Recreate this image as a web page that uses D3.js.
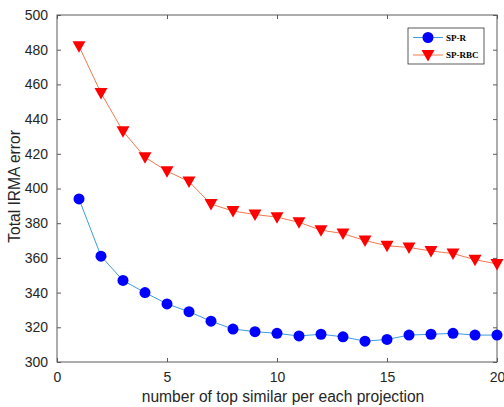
<!DOCTYPE html>
<html><head><meta charset="utf-8">
<script src="https://cdn.jsdelivr.net/npm/d3@7"></script>
<style>body{margin:0;background:#fff}svg{display:block}</style>
</head><body>
<svg id="c" width="504" height="407"></svg>
<script>
const xValues = [1,2,3,4,5,6,7,8,9,10,11,12,13,14,15,16,17,18,19,20];
const spR = [394,361,347,340,333.5,329,323.5,319,317.5,316.5,315,316,314.5,312,313,315.5,316,316.5,315.5,315.5];
const spRBC = [482,455,433,418,410,404,391,387,385,383.5,380.5,376,374,370,367,366,364,362.5,359,356.5];
const xTicks = [0,5,10,15,20];
const yTicks = [300,320,340,360,380,400,420,440,460,480,500];
const seriesNames = ["SP-R","SP-RBC"];

const svg = d3.select("#c");
const L=57, R=497, T=15, B=362;
const x = d3.scaleLinear().domain([0,20]).range([L,R]);
const y = d3.scaleLinear().domain([300,500]).range([B,T]);
const axisColor = "#5a5a5a";
const font = "Arial, 'Liberation Sans', Helvetica, sans-serif";

svg.append("rect").attr("x",L).attr("y",T).attr("width",R-L).attr("height",B-T)
  .attr("fill","none").attr("stroke",axisColor).attr("stroke-width",1);

const gx = svg.append("g").attr("transform",`translate(0,${B})`)
  .call(d3.axisBottom(x).tickValues(xTicks).tickSizeInner(-4).tickSizeOuter(0).tickPadding(10));
const gx2 = svg.append("g").attr("transform",`translate(0,${T})`)
  .call(d3.axisTop(x).tickValues(xTicks).tickSizeInner(-4).tickSizeOuter(0).tickFormat(""));
const gy = svg.append("g").attr("transform",`translate(${L},0)`)
  .call(d3.axisLeft(y).tickValues(yTicks).tickSizeInner(-4).tickSizeOuter(0).tickPadding(9));
const gy2 = svg.append("g").attr("transform",`translate(${R},0)`)
  .call(d3.axisRight(y).tickValues(yTicks).tickSizeInner(-4).tickSizeOuter(0).tickFormat(""));
[gx,gx2,gy,gy2].forEach(g=>{
  g.select(".domain").remove();
  g.selectAll("line").attr("stroke",axisColor);
  g.selectAll("text").attr("fill","#262626").style("font-family",font).style("font-size","14px");
});

svg.append("text").attr("x",(L+R)/2+6).attr("y",402).attr("text-anchor","middle")
  .style("font-family",font).style("font-size","15.6px").attr("fill","#262626")
  .text("number of top similar per each projection");
svg.append("text").attr("transform",`translate(20,${(T+B)/2-2}) rotate(-90)`).attr("text-anchor","middle")
  .style("font-family",font).style("font-size","15.6px").attr("fill","#262626")
  .text("Total IRMA error");

const line = d3.line().x((d,i)=>x(xValues[i])).y(d=>y(d));
svg.append("path").datum(spRBC).attr("d",line).attr("fill","none").attr("stroke","#f07850").attr("stroke-width",1);
svg.append("path").datum(spR).attr("d",line).attr("fill","none").attr("stroke","#3c9ce0").attr("stroke-width",1);

const tri = "M-6.5,-5 L6.5,-5 L0,6.5 Z";
svg.selectAll(".t").data(spRBC).enter().append("path")
  .attr("transform",(d,i)=>`translate(${x(xValues[i])},${y(d)})`)
  .attr("d",tri).attr("fill","#ff0000");
svg.selectAll(".c").data(spR).enter().append("circle")
  .attr("cx",(d,i)=>x(xValues[i])).attr("cy",d=>y(d)).attr("r",5.5).attr("fill","#0000ff");

const lg = svg.append("g");
lg.append("rect").attr("x",408).attr("y",28).attr("width",76).attr("height",36)
  .attr("fill","#fff").attr("stroke","#333").attr("stroke-width",0.8);
const items = [{name:seriesNames[0],lc:"#3c9ce0",m:"c",cy:37.5},{name:seriesNames[1],lc:"#f07850",m:"t",cy:55}];
items.forEach(it=>{
  lg.append("line").attr("x1",413).attr("x2",443).attr("y1",it.cy).attr("y2",it.cy).attr("stroke",it.lc);
  if(it.m==="c") lg.append("circle").attr("cx",428).attr("cy",it.cy).attr("r",5.5).attr("fill","#0000ff");
  else lg.append("path").attr("transform",`translate(428,${it.cy})`).attr("d",tri).attr("fill","#ff0000");
  lg.append("text").attr("x",446).attr("y",it.cy+3).style("font-family","'Liberation Serif','Times New Roman',serif")
    .style("font-size","9px").style("font-weight","bold").attr("fill","#000").text(it.name);
});
</script>
</body></html>
